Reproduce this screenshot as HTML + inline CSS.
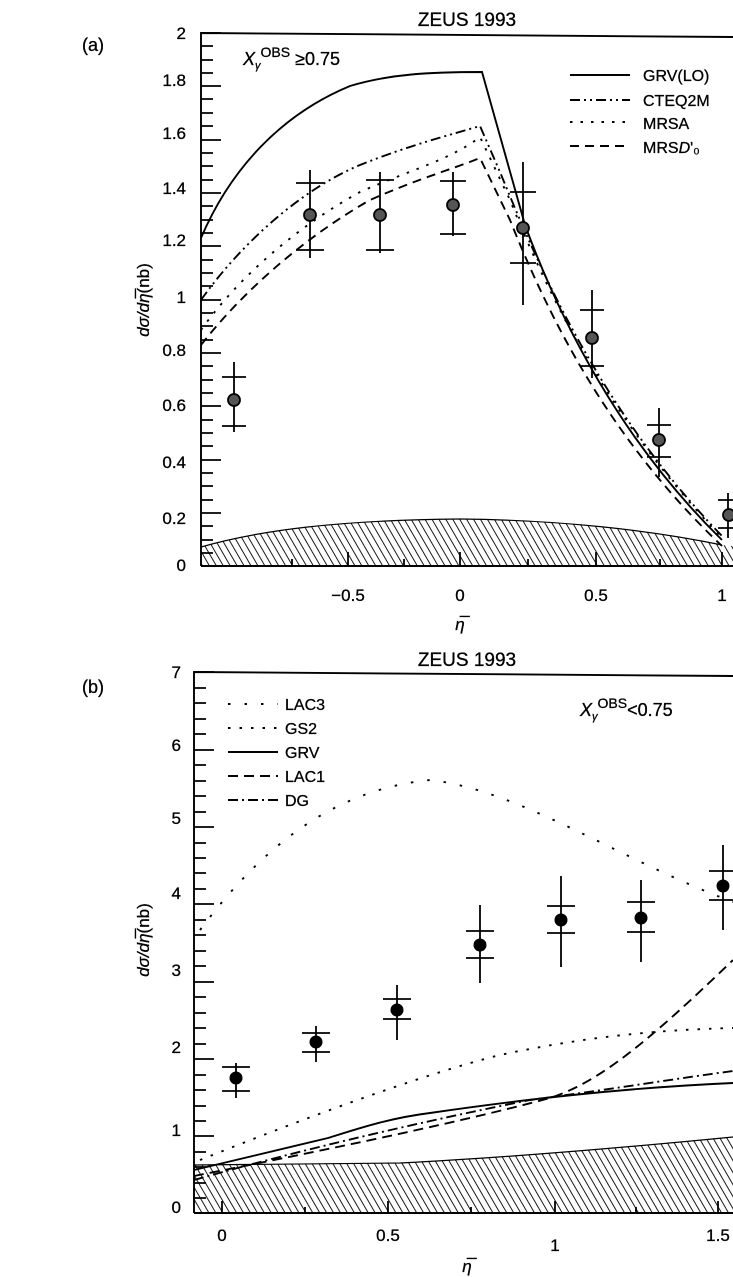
<!DOCTYPE html>
<html><head><meta charset="utf-8"><style>
html,body{margin:0;padding:0;background:#fff}
svg{display:block}
text{font-family:"Liberation Sans",Arial,sans-serif;fill:#000;stroke:#000;stroke-width:0.3}
</style></head><body>
<svg width="733" height="1277" viewBox="0 0 733 1277" xmlns="http://www.w3.org/2000/svg">
<defs>
<pattern id="h" width="6" height="6" patternUnits="userSpaceOnUse" patternTransform="rotate(-30)">
<line x1="0" y1="0" x2="0" y2="6" stroke="#000" stroke-width="1.8"/>
</pattern>
</defs>
<g stroke="#000" fill="none" stroke-width="1.9">
<path d="M201,566 L201,33 L733,37"/>
<path d="M201,566 L733,566"/>
<path d="M201,566 L201,547 C260,530 340,520 460,519 C560,520 650,530 722,545 L733,546 L733,566 Z" fill="url(#h)" stroke="none"/>
<path d="M201,547 C260,530 340,520 460,519 C560,520 650,530 722,545" stroke-width="1.2"/>
<path d="M201,238 C230,170 280,115 350,86 C390,74 430,72 482,72 L525,225 C560,320 620,440 722,540"/>
<path d="M201,300 C240,245 300,190 360,165 C410,145 450,135 480,126 L500,172 C540,270 600,410 722,536" stroke-dasharray="10,4,2,4,2,4"/>
<path d="M201,330 C240,275 300,225 360,192 C410,170 450,160 480,137 L510,200 C550,300 610,420 722,538" stroke-dasharray="2.5,8"/>
<path d="M201,345 C240,295 300,240 370,200 C420,178 450,170 480,158 L510,220 C550,320 610,440 722,546" stroke-dasharray="9,6"/>
<line x1="570" y1="75" x2="630" y2="75"/>
<line x1="570" y1="100" x2="630" y2="100" stroke-dasharray="10,4,2,4,2,4"/>
<line x1="570" y1="122" x2="630" y2="122" stroke-dasharray="2.5,8"/>
<line x1="570" y1="146" x2="630" y2="146" stroke-dasharray="9,6"/>
</g>
<g stroke="#000" stroke-width="1.8">
<path d="M201,33h20M201,46h12M201,60h12M201,73h12M201,86h20M201,99h12M201,113h12M201,126h12M201,140h20M201,153h12M201,166h12M201,180h12M201,193h20M201,206h12M201,220h12M201,233h12M201,246h20M201,260h12M201,273h12M201,286h12M201,300h20M201,313h12M201,326h12M201,340h12M201,353h20M201,366h12M201,380h12M201,393h12M201,406h20M201,420h12M201,433h12M201,446h12M201,460h20M201,473h12M201,486h12M201,500h12M201,513h20M201,526h12M201,540h12M201,553h12"/>
<path d="M348,566v-14M460,566v-14M596,566v-14M722,566v-14M292,566v-7M404,566v-7M528,566v-7M660,566v-7"/>
<path d="M234,362V432M222,377h24M222,426h24"/>
<path d="M310,170V258M296,183h28M296,250h28"/>
<path d="M380,172V253M366,180h28M366,250h28"/>
<path d="M453,172V236M440,181h26M440,234h26"/>
<path d="M523,162V305M510,192h26M510,263h26"/>
<path d="M592,290V378M580,310h24M580,366h24"/>
<path d="M659,408V477M647,425h24M647,457h24"/>
<path d="M728,493V538M718,500h15M718,528h15"/>
</g>
<g fill="#555" stroke="#000" stroke-width="1.8">
<circle cx="234" cy="400" r="6"/><circle cx="310" cy="215" r="6"/><circle cx="380" cy="215" r="6"/><circle cx="453" cy="205" r="6"/><circle cx="523" cy="228" r="6"/><circle cx="592" cy="338" r="6"/><circle cx="659" cy="440" r="6"/><circle cx="729" cy="515" r="6"/>
</g>
<text x="467" y="26" font-size="19" text-anchor="middle">ZEUS 1993</text>
<text x="82" y="51" font-size="18">(a)</text>
<g font-size="17" text-anchor="end">
<text x="186" y="39">2</text><text x="186" y="86">1.8</text><text x="186" y="139">1.6</text><text x="186" y="194">1.4</text><text x="186" y="246">1.2</text><text x="186" y="303">1</text><text x="186" y="356">0.8</text><text x="186" y="411">0.6</text><text x="186" y="468">0.4</text><text x="186" y="524">0.2</text><text x="186" y="571">0</text>
</g>
<g font-size="17" text-anchor="middle">
<text x="348" y="601">−0.5</text><text x="460" y="601">0</text><text x="596" y="601">0.5</text><text x="722" y="601">1</text>
<text x="460" y="630" font-style="italic">η̅</text>
</g>
<text x="243" y="65" font-size="18"><tspan font-style="italic">X</tspan><tspan font-size="11" dy="4" font-style="italic">γ</tspan><tspan font-size="14" dy="-12">OBS</tspan><tspan dy="8"> ≥0.75</tspan></text>
<g font-size="16"><text x="643" y="81">GRV(LO)</text><text x="643" y="106">CTEQ2M</text><text x="643" y="129">MRSA</text><text x="643" y="153">MRS<tspan font-style="italic">D</tspan>'₀</text></g>
<text transform="translate(149,300) rotate(-90)" font-size="17" text-anchor="middle"><tspan font-style="italic">dσ/dη̅</tspan>(nb)</text>

<g stroke="#000" fill="none" stroke-width="1.9">
<path d="M194,1213 L194,672 L733,676"/>
<path d="M194,1213 L733,1213"/>
<path d="M194,1213 L194,1165 L400,1163 C500,1158 620,1148 733,1137 L733,1213 Z" fill="url(#h)" stroke="none"/>
<path d="M194,1165 L400,1163 C500,1158 620,1148 733,1137" stroke-width="1.2"/>
<path d="M200,930 C260,850 330,790 430,780 C520,790 620,860 733,902" stroke-dasharray="2.5,14"/>
<path d="M200,1160 C300,1120 420,1075 500,1055 C580,1038 650,1030 733,1028" stroke-dasharray="2.5,9"/>
<path d="M194,1170 L328,1138 C360,1128 390,1118 430,1113 C520,1100 620,1088 733,1083"/>
<path d="M194,1176 C300,1155 450,1125 550,1098 C600,1082 650,1040 733,960" stroke-dasharray="10,6"/>
<path d="M194,1180 C300,1150 420,1122 530,1100 C620,1088 680,1078 733,1071" stroke-dasharray="10,4,2,4"/>
<line x1="228" y1="704" x2="278" y2="704" stroke-dasharray="2.5,14"/>
<line x1="228" y1="728" x2="278" y2="728" stroke-dasharray="2.5,9"/>
<line x1="228" y1="752" x2="278" y2="752"/>
<line x1="228" y1="776" x2="278" y2="776" stroke-dasharray="10,6"/>
<line x1="228" y1="800" x2="278" y2="800" stroke-dasharray="10,4,2,4"/>
</g>
<g stroke="#000" stroke-width="1.8">
<path d="M194,672h20M194,688h12M194,703h12M194,719h12M194,734h12M194,750h20M194,765h12M194,781h12M194,796h12M194,812h12M194,827h20M194,843h12M194,858h12M194,873h12M194,889h12M194,904h20M194,920h12M194,935h12M194,951h12M194,966h12M194,982h20M194,997h12M194,1013h12M194,1028h12M194,1044h12M194,1059h20M194,1075h12M194,1090h12M194,1106h12M194,1121h12M194,1136h20M194,1152h12M194,1167h12M194,1183h12M194,1198h12"/>
<path d="M222,1213v-12M388,1213v-12M555,1213v-12M718,1213v-12M305,1213v-6M471,1213v-6M636,1213v-6"/>
<path d="M236,1063V1098M222,1067h28M222,1091h28"/>
<path d="M316,1026V1062M302,1033h28M302,1052h28"/>
<path d="M397,985V1040M383,999h28M383,1019h28"/>
<path d="M480,905V983M466,931h28M466,958h28"/>
<path d="M561,876V967M547,906h28M547,933h28"/>
<path d="M641,880V962M627,902h28M627,932h28"/>
<path d="M723,845V930M709,871h24M709,900h24"/>
</g>
<g fill="#000">
<circle cx="236" cy="1078" r="6.5"/><circle cx="316" cy="1042" r="6.5"/><circle cx="397" cy="1010" r="6.5"/><circle cx="480" cy="945" r="6.5"/><circle cx="561" cy="920" r="6.5"/><circle cx="641" cy="918" r="6.5"/><circle cx="723" cy="886" r="6.5"/>
</g>
<text x="467" y="666" font-size="19" text-anchor="middle">ZEUS 1993</text>
<text x="82" y="693" font-size="18">(b)</text>
<g font-size="17" text-anchor="end">
<text x="181" y="678">7</text><text x="181" y="751">6</text><text x="181" y="824">5</text><text x="181" y="899">4</text><text x="181" y="976">3</text><text x="181" y="1053">2</text><text x="181" y="1136">1</text><text x="181" y="1213">0</text>
</g>
<g font-size="17" text-anchor="middle">
<text x="222" y="1241">0</text><text x="388" y="1241">0.5</text><text x="555" y="1251">1</text><text x="718" y="1241">1.5</text>
<text x="467" y="1272" font-style="italic">η̅</text>
</g>
<g font-size="16"><text x="285" y="710">LAC3</text><text x="285" y="734">GS2</text><text x="285" y="758">GRV</text><text x="285" y="782">LAC1</text><text x="285" y="806">DG</text></g>
<text x="580" y="716" font-size="18"><tspan font-style="italic">X</tspan><tspan font-size="11" dy="4" font-style="italic">γ</tspan><tspan font-size="14" dy="-12">OBS</tspan><tspan dy="8">&lt;0.75</tspan></text>
<text transform="translate(149,940) rotate(-90)" font-size="17" text-anchor="middle"><tspan font-style="italic">dσ/dη̅</tspan>(nb)</text>
</svg>
</body></html>
